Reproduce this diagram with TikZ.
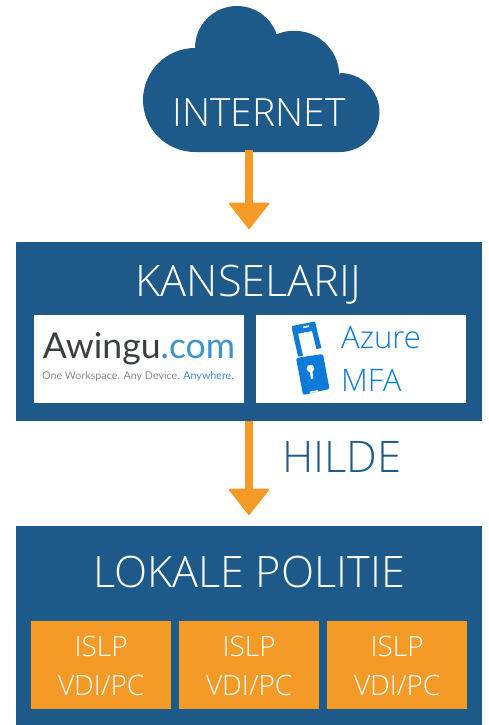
\documentclass[tikz,border=0pt]{standalone}
\usepackage{fontspec}
\setmainfont{Open Sans Light}
\newfontfamily\logofont{Lato}
\usetikzlibrary{arrows.meta}
\definecolor{navy}{HTML}{1D5A8A}
\definecolor{amber}{HTML}{F39A27}
\definecolor{azureb}{HTML}{0F7BD8}
\definecolor{awdark}{HTML}{3C3F42}
\definecolor{awblue}{HTML}{3B93D3}
\definecolor{awgrey}{HTML}{8A8D90}
\tikzset{
  panel/.style={fill=navy,draw=none,inner sep=0pt,anchor=north west},
  logobox/.style={fill=white,draw=none,inner sep=0pt,anchor=north west,minimum width=210pt,minimum height=88pt},
  islpbox/.style={fill=amber,draw=none,inner sep=0pt,anchor=north west,minimum width=140pt,minimum height=88pt,align=center,text=white,font=\fontsize{28}{39}\selectfont},
  flow/.style={draw=amber,line width=8pt,-{Triangle[width=42pt,length=27pt,round,line width=2pt,fill=amber]}},
  lbl/.style={text=white,inner sep=0pt,anchor=center},
}
\begin{document}
\begin{tikzpicture}[x=1pt,y=-1pt]
\useasboundingbox (0,0) rectangle (489,725);
% cloud
\fill[navy] (195,152) arc[start angle=90,end angle=270,radius=52]
  arc[start angle=180,end angle=341,radius=42]
  arc[start angle=247,end angle=360,radius=45]
  -- (340,73) arc[start angle=270,end angle=450,radius=39.5] -- cycle;
\node[lbl,font=\fontsize{39}{39}\selectfont] (internet) at (259,112.5) {INTERNET};
\coordinate (cloudfoot) at (249,150);
% panels
\node[panel,minimum width=466pt,minimum height=179pt] (kans) at (16,242) {};
\node[panel,minimum width=466pt,minimum height=199pt] (politie) at (16,526) {};
\node[lbl,font=\fontsize{43.3}{43.3}\selectfont] (kanslbl) at (248.5,284.5) {KANSELARIJ};
\node[logobox] (awingu) at (34,315) {};
\node[logobox] (azure) at (256,315) {};
\node[lbl,font=\fontsize{43.3}{43.3}\selectfont] (pollbl) at (249,572.5) {LOKALE POLITIE};
\node[islpbox] (isa) at (31,621) {\rule{0pt}{22pt}ISLP\\VDI/PC};
\node[islpbox] (isb) at (179,621) {\rule{0pt}{22pt}ISLP\\VDI/PC};
\node[islpbox] (isc) at (327,621) {\rule{0pt}{22pt}ISLP\\VDI/PC};
% arrows
\coordinate (tipa) at (249,229);
\coordinate (tipb) at (249,515);
\draw[flow] (cloudfoot) -- (tipa);
\draw[flow] (kans.south -| tipb) -- (tipb);
\node[text=navy,inner sep=0pt,font=\fontsize{43.5}{43.5}\selectfont] (hilde) at (342,456.5) {HILDE};
% Awingu logo
\node[inner sep=0pt,anchor=center,font=\logofont\fontsize{35.6}{35.6}\selectfont] (awtext) at (139,349) {\textcolor{awdark}{Awingu}\textcolor{awblue}{.com}};
\node[inner sep=0pt,anchor=center,font=\logofont\fontsize{10.7}{10.7}\selectfont] (awtag) at (138,376) {\textcolor{awgrey}{One Workspace. Any Device.} \textcolor{awblue}{Anywhere.}};
% Azure MFA
\node[inner sep=0pt,text=azureb,font=\fontsize{31}{31}\selectfont,anchor=west] (azt) at (341,338) {Azure};
\node[inner sep=0pt,text=azureb,font=\fontsize{31}{31}\selectfont,anchor=west] (mfat) at (341,380) {MFA};
% padlock icon
\draw[azureb,line width=5pt,line join=round,line cap=butt] (300.5,356) -- (294.5,329) -- (313,325) -- (319,348.5);
\fill[azureb] (292,326) -- (315,321.5) -- (317,330) -- (294,334.5) -- cycle;
\fill[white] (303,326.5) -- (309,325.3) -- (309.3,327) -- (303.3,328.2) -- cycle;
\fill[azureb,rounded corners=2pt] (296,358) -- (323,354) -- (329.5,389) -- (303,395) -- cycle;
\fill[white] (310.5,368.5) circle[radius=3.8];
\fill[white] (309.4,370) -- (312.2,369.5) -- (313.3,378.5) -- (311,379) -- cycle;
\fill[white] (310,391.5) -- (318,390) -- (318.3,391.5) -- (310.3,393) -- cycle;
\end{tikzpicture}
\end{document}
